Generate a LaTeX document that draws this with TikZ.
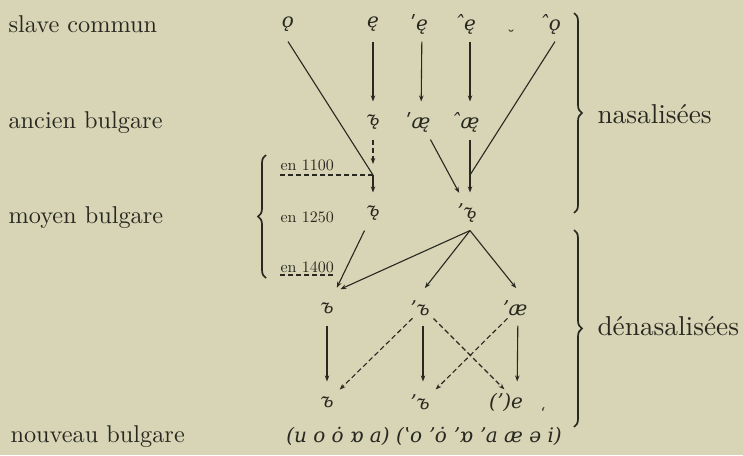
\documentclass[tikz,border=0pt]{standalone}
\usepackage{fontspec}
\usepackage{xcolor}
\usepackage{tikz}
\usetikzlibrary{positioning, arrows.meta, decorations.pathreplacing}
\newfontfamily\phonfont{DejaVu Serif}
\newfontfamily\lblfont{lmroman10-regular}[Extension=.otf]
\definecolor{paper}{RGB}{215,213,181}
\definecolor{ink}{RGB}{40,40,32}

\begin{document}
\begin{tikzpicture}[x=1pt, y=-1pt, color=ink, line width=1.1pt]
      \tikzstyle{phon}=[font=\fontsize{20}{24}\selectfont\phonfont\itshape, inner sep=0pt, minimum width=20pt, minimum height=34pt]
      \tikzstyle{lbl}=[font=\fontsize{24.3}{30}\selectfont\lblfont, anchor=base west, inner sep=0pt]
      \tikzstyle{side}=[font=\fontsize{27.3}{32}\selectfont\lblfont, anchor=base west, inner sep=0pt]
      \tikzstyle{date}=[font=\fontsize{16}{19}\selectfont\lblfont, anchor=base west, inner sep=0pt]
      \tikzstyle{arr}=[-{Stealth[length=6pt, width=4.5pt]}, shorten >=3pt]
      \tikzstyle{dashline}=[dash pattern=on 5pt off 3pt]
      \tikzstyle{brc}=[decorate, decoration={brace, amplitude=8pt}, line width=1.7pt]
      \fill[paper] (0,0) rectangle (743,455);
      \useasboundingbox (0,0) rectangle (743,455);
      \node[lbl] (sc) at (8,32) {slave commun};
      \node[lbl] (ab) at (8,128) {ancien bulgare};
      \node[lbl] (mb) at (8,223) {moyen bulgare};
      \node[lbl] (nb) at (10,442) {nouveau bulgare};
      \node[side] (nas) at (597,123) {nasalisées};
      \node[side] (den) at (597,335) {dénasalisées};
      \node[date] (d1100) at (280,170) {en 1100};
      \node[date] (d1250) at (280,222) {en 1250};
      \node[date] (d1400) at (280,272) {en 1400};
      \node[phon] (o1) at (288,24) {ǫ};
      \node[phon] (e1) at (373,24) {ę};
      \node[phon] (e2) at (422,24) {\llap{ʹ}ę};
      \node[phon] (e3) at (470,24) {\llap{ˆ}ę};
      \node[font=\fontsize{16}{16}\selectfont\phonfont, anchor=base, inner sep=0pt] (brv) at (511,42) {˘};
      \node[phon] (o2) at (555,24) {\llap{ˆ}ǫ};
      \node[phon] (a1) at (373,122) {ъ̨};
      \node[phon] (a2) at (421,122) {\llap{ʹ}æ̨};
      \node[phon] (a3) at (470,122) {\llap{ˆ}æ̨};
      \node[phon] (m1) at (373,213) {ъ̨};
      \node[phon] (m2) at (470,213) {\llap{ʼ}ъ̨};
      \node[phon] (n1) at (327,308) {ъ};
      \node[phon] (n2) at (423,308) {\llap{ʼ}ъ};
      \node[phon] (n3) at (518,308) {\llap{ʼ}æ};
      \node[phon] (f1) at (327,402) {ъ};
      \node[phon] (f2) at (423,402) {\llap{ʼ}ъ};
      \node[phon] (f3) at (517,402) {\llap{(ʼ)}e};
      \node[font=\fontsize{15}{15}\selectfont\phonfont, anchor=base, inner sep=0pt] (hk) at (543,418) {ʻ};
      \node[phon, minimum height=0pt] (nv) at (424,436) {(u o ȯ ɒ a) (ʽo ʼȯ ʼɒ ʼa æ ə i)};
      \coordinate (j1) at (373,175);
      \coordinate (j2) at (470,175);
      \coordinate (h1) at (280,175);
      \draw (o1.south) -- (j1);
      \draw (o2.south) -- (j2);
      \draw[arr] (e1) -- (a1);
      \draw[arr] (e2) -- (a2);
      \draw[arr] (e3) -- (a3);
      \draw[arr, dashline, shorten >=11pt] (a1) -- (j1);
      \draw[dashline] (h1) -- (j1);
      \draw[arr] (j1) -- (m1);
      \draw[arr] (a2) -- (m2);
      \draw (a3) -- (j2);
      \draw[arr] (j2) -- (m2);
      \draw[dashline] ([yshift=-3pt]d1400.base west) -- ([yshift=-3pt]d1400.base east);
      \draw[arr] (m1) -- (n1);
      \draw[arr] (m2.south) -- (n1.north east);
      \draw[arr] (m2.south) -- (n2.north);
      \draw[arr] (m2.south) -- (n3.north);
      \draw[arr] (n1) -- (f1);
      \draw[arr] (n2) -- (f2);
      \draw[arr] (n3) -- (f3);
      \draw[arr, dashline] (n2) -- (f1);
      \draw[arr, dashline] (n2) -- (f3);
      \draw[arr, dashline] (n3) -- (f2);
      \draw[brc] (574,13) -- (574,213);
      \draw[brc] (574,230) -- (574,427);
      \draw[brc] (266,278) -- (266,155);
    \end{tikzpicture}
\end{document}
